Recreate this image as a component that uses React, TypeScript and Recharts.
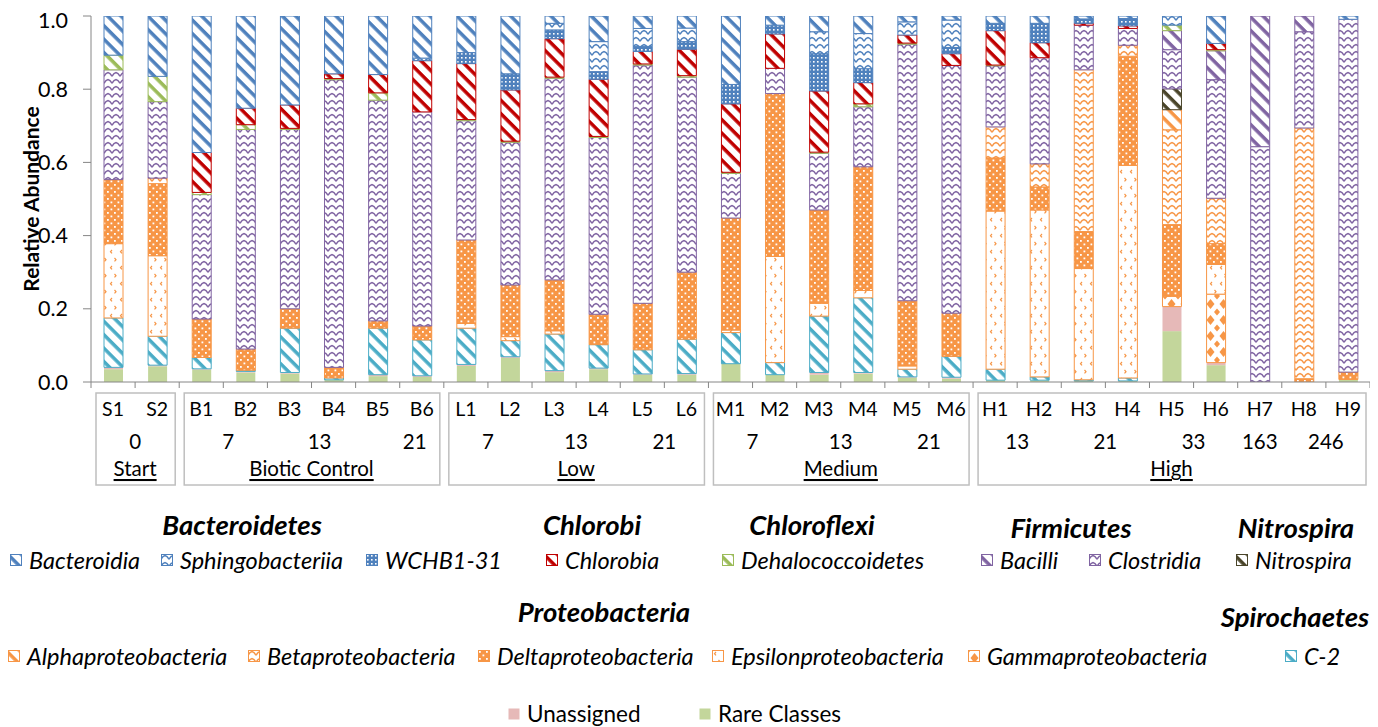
import React from 'react';
import { BarChart, Bar, XAxis, YAxis, Label } from 'recharts';

// ---- samples, days and treatments ----
const SAMPLES = ['S1', 'S2', 'B1', 'B2', 'B3', 'B4', 'B5', 'B6', 'L1', 'L2', 'L3', 'L4', 'L5', 'L6', 'M1', 'M2', 'M3', 'M4', 'M5', 'M6', 'H1', 'H2', 'H3', 'H4', 'H5', 'H6', 'H7', 'H8', 'H9'];
const DAYS = ['0', '0', '7', '7', '13', '13', '21', '21', '7', '7', '13', '13', '21', '21', '7', '7', '13', '13', '21', '21', '13', '13', '21', '21', '33', '33', '163', '246', '246'];
const TREATMENTS = [
  'Start', 'Start',
  'Biotic Control', 'Biotic Control', 'Biotic Control', 'Biotic Control', 'Biotic Control', 'Biotic Control',
  'Low', 'Low', 'Low', 'Low', 'Low', 'Low',
  'Medium', 'Medium', 'Medium', 'Medium', 'Medium', 'Medium',
  'High', 'High', 'High', 'High', 'High', 'High', 'High', 'High', 'High',
];

// ---- relative abundance per class (one value per sample) ----
const BACTEROIDIA = [0.107, 0.165, 0.373, 0.252, 0.243, 0.158, 0.160, 0.115, 0.100, 0.158, 0.020, 0.070, 0.034, 0.033, 0.187, 0.025, 0.043, 0.048, 0.016, 0.011, 0.020, 0.020, 0.008, 0.007, 0, 0.075, 0, 0, 0.009];
const SPHINGOBACTERIIA = [0, 0, 0, 0, 0, 0, 0, 0.007, 0, 0, 0.018, 0.082, 0.049, 0.037, 0, 0, 0.060, 0.096, 0.036, 0.075, 0, 0, 0, 0, 0.025, 0, 0, 0, 0];
const WCHB1_31 = [0, 0, 0, 0, 0, 0, 0, 0, 0.030, 0.044, 0.024, 0.021, 0.014, 0.021, 0.053, 0.024, 0.102, 0.038, 0, 0.017, 0.020, 0.053, 0.012, 0.020, 0, 0, 0, 0, 0];
const CHLOROBIA = [0, 0, 0.109, 0.045, 0.064, 0.013, 0.050, 0.140, 0.153, 0.140, 0.105, 0.156, 0.034, 0.072, 0.187, 0.094, 0.167, 0.058, 0.022, 0.032, 0.094, 0.041, 0.005, 0.007, 0, 0.017, 0, 0, 0];
const DEHALOCOCCOIDETES = [0.040, 0.069, 0.006, 0.013, 0.003, 0.003, 0.020, 0, 0.003, 0.003, 0.003, 0.003, 0.003, 0.004, 0.003, 0, 0.003, 0.008, 0.003, 0, 0.002, 0, 0, 0, 0.015, 0.003, 0, 0, 0];
const BACILLI = [0, 0, 0, 0, 0, 0, 0, 0, 0, 0, 0, 0, 0, 0, 0, 0, 0, 0, 0, 0, 0, 0, 0, 0, 0.052, 0.079, 0.357, 0.043, 0];
const CLOSTRIDIA = [0.300, 0.209, 0.340, 0.600, 0.490, 0.786, 0.603, 0.585, 0.326, 0.390, 0.551, 0.483, 0.651, 0.533, 0.122, 0.069, 0.155, 0.164, 0.701, 0.677, 0.167, 0.290, 0.122, 0.046, 0.107, 0.324, 0.643, 0.263, 0.964];
const NITROSPIRA = [0, 0, 0, 0, 0, 0, 0, 0, 0, 0, 0, 0, 0, 0, 0, 0, 0, 0, 0, 0, 0, 0, 0, 0, 0.057, 0, 0, 0, 0];
const ALPHA = [0, 0, 0, 0, 0, 0, 0, 0, 0, 0, 0, 0, 0, 0, 0, 0, 0, 0, 0, 0, 0, 0, 0, 0, 0.055, 0, 0, 0, 0];
const BETA = [0, 0.015, 0, 0, 0, 0, 0, 0, 0, 0, 0, 0, 0, 0, 0, 0, 0, 0, 0, 0, 0.085, 0.063, 0.442, 0.030, 0.259, 0.124, 0, 0.685, 0];
const DELTA = [0.175, 0.197, 0.105, 0.058, 0.053, 0.029, 0.020, 0.038, 0.228, 0.141, 0.139, 0.083, 0.127, 0.183, 0.306, 0.445, 0.255, 0.338, 0.178, 0.118, 0.145, 0.063, 0.101, 0.298, 0.196, 0.057, 0, 0.009, 0.020];
const EPSILON = [0.203, 0.220, 0, 0, 0, 0, 0, 0, 0.013, 0.011, 0.009, 0, 0, 0, 0.007, 0.290, 0.035, 0.020, 0.009, 0, 0.432, 0.456, 0.304, 0.581, 0, 0.081, 0, 0, 0];
const GAMMA = [0, 0, 0, 0, 0, 0, 0, 0, 0, 0, 0, 0, 0, 0, 0, 0, 0, 0, 0, 0, 0, 0, 0, 0, 0.028, 0.187, 0, 0, 0];
const C_2 = [0.135, 0.079, 0.031, 0.003, 0.121, 0.005, 0.127, 0.098, 0.099, 0.044, 0.100, 0.064, 0.066, 0.094, 0.085, 0.033, 0.154, 0.204, 0.021, 0.057, 0.030, 0.009, 0.003, 0.008, 0, 0, 0, 0, 0];
const UNASSIGNED = [0.005, 0.003, 0.002, 0.003, 0.003, 0, 0.004, 0.003, 0.004, 0.003, 0.004, 0.003, 0.002, 0.003, 0, 0, 0.006, 0.003, 0.002, 0.004, 0, 0, 0, 0, 0.067, 0.007, 0, 0, 0];
const RARE = [0.035, 0.043, 0.034, 0.026, 0.023, 0.006, 0.016, 0.014, 0.044, 0.066, 0.027, 0.035, 0.020, 0.020, 0.050, 0.020, 0.020, 0.023, 0.012, 0.009, 0.005, 0.005, 0.003, 0.003, 0.139, 0.046, 0, 0, 0.007];

const Y_TICKS = [0, 0.2, 0.4, 0.6, 0.8, 1.0];

type PatternKind = 'stripes' | 'waves' | 'grid' | 'dots' | 'chevrons' | 'diamonds' | 'solid';
interface SeriesDef { id: string; name: string; values: number[]; color: string; pattern: PatternKind; }

// legend order (top of stack first)
const SERIES: SeriesDef[] = [
  { id: 'bacteroidia', name: 'Bacteroidia', values: BACTEROIDIA, color: '#4F81BD', pattern: 'stripes' },
  { id: 'sphingo', name: 'Sphingobacteriia', values: SPHINGOBACTERIIA, color: '#4F81BD', pattern: 'waves' },
  { id: 'wchb', name: 'WCHB1-31', values: WCHB1_31, color: '#4F81BD', pattern: 'grid' },
  { id: 'chlorobia', name: 'Chlorobia', values: CHLOROBIA, color: '#C00000', pattern: 'stripes' },
  { id: 'dehalo', name: 'Dehalococcoidetes', values: DEHALOCOCCOIDETES, color: '#9BBB59', pattern: 'stripes' },
  { id: 'bacilli', name: 'Bacilli', values: BACILLI, color: '#8064A2', pattern: 'stripes' },
  { id: 'clostridia', name: 'Clostridia', values: CLOSTRIDIA, color: '#8064A2', pattern: 'waves' },
  { id: 'nitrospira', name: 'Nitrospira', values: NITROSPIRA, color: '#4A452A', pattern: 'stripes' },
  { id: 'alpha', name: 'Alphaproteobacteria', values: ALPHA, color: '#F79646', pattern: 'stripes' },
  { id: 'beta', name: 'Betaproteobacteria', values: BETA, color: '#F79646', pattern: 'waves' },
  { id: 'delta', name: 'Deltaproteobacteria', values: DELTA, color: '#F79646', pattern: 'dots' },
  { id: 'epsilon', name: 'Epsilonproteobacteria', values: EPSILON, color: '#F79646', pattern: 'chevrons' },
  { id: 'gamma', name: 'Gammaproteobacteria', values: GAMMA, color: '#F79646', pattern: 'diamonds' },
  { id: 'c2', name: 'C-2', values: C_2, color: '#4BACC6', pattern: 'stripes' },
  { id: 'unassigned', name: 'Unassigned', values: UNASSIGNED, color: '#E6B9B8', pattern: 'solid' },
  { id: 'rare', name: 'Rare Classes', values: RARE, color: '#C3D69B', pattern: 'solid' },
];

const rows = SAMPLES.map((sample, i) => {
  const row: Record<string, string | number> = { sample };
  SERIES.forEach((s) => { row[s.id] = s.values[i]; });
  return row;
});

// ---- layout ----
const FONT = "Lato, 'Open Sans', sans-serif";
const AXIS = '#868686';
const CHART_W = 1362;
const CHART_H = 490;
const MARGIN = { top: 8, right: 0, bottom: 6, left: 10 };
const Y_W = 73;
const X_H = 110;
const BAND = (CHART_W - MARGIN.left - MARGIN.right - Y_W) / SAMPLES.length;
const DAY_NUDGE: Record<string, number> = { 'Biotic Control|7': 5, 'Biotic Control|13': 8, 'Biotic Control|21': 15 };

const fillOf = (s: SeriesDef) => (s.pattern === 'solid' ? s.color : `url(#pat-${s.id})`);

function PatternDef({ s }: { s: SeriesDef }) {
  const id = `pat-${s.id}`;
  const c = s.color;
  switch (s.pattern) {
    case 'stripes':
      return (
        <pattern id={id} patternUnits="userSpaceOnUse" width={9.5} height={9.5} patternTransform="rotate(45)">
          <rect width={9.5} height={9.5} fill="#fff" />
          <rect width={9.5} height={3.5} fill={c} />
        </pattern>
      );
    case 'waves':
      return (
        <pattern id={id} patternUnits="userSpaceOnUse" width={8} height={7}>
          <rect width={8} height={7} fill="#fff" />
          <path d="M0,5.2 L2,2.6 L4,1.6 L6,2.6 L8,5.2" stroke={c} strokeWidth={1.4} fill="none" />
        </pattern>
      );
    case 'grid':
      return (
        <pattern id={id} patternUnits="userSpaceOnUse" width={4} height={4}>
          <rect width={4} height={4} fill={c} />
          <rect x={1} y={1} width={1.6} height={1.6} fill="#fff" />
        </pattern>
      );
    case 'dots':
      return (
        <pattern id={id} patternUnits="userSpaceOnUse" width={7} height={7}>
          <rect width={7} height={7} fill={c} />
          <rect x={1} y={1} width={1.8} height={1.8} fill="#fff" />
          <rect x={4.5} y={4.5} width={1.8} height={1.8} fill="#fff" />
        </pattern>
      );
    case 'chevrons':
      return (
        <pattern id={id} patternUnits="userSpaceOnUse" width={10} height={16}>
          <rect width={10} height={16} fill="#fff" />
          <path d="M4,2 L2.5,3.7 L4,5.4" stroke={c} strokeWidth={1.2} fill="none" />
          <path d="M6.5,10 L8,11.7 L6.5,13.4" stroke={c} strokeWidth={1.2} fill="none" />
        </pattern>
      );
    case 'diamonds':
      return (
        <pattern id={id} patternUnits="userSpaceOnUse" width={13} height={16}>
          <rect width={13} height={16} fill="#fff" />
          <polygon points="6.5,3 10.5,8 6.5,13 2.5,8" fill={c} />
          <polygon points="0,-3.5 3,0 0,3.5 -3,0" fill={c} />
          <polygon points="13,-3.5 16,0 13,3.5 10,0" fill={c} />
          <polygon points="0,12.5 3,16 0,19.5 -3,16" fill={c} />
          <polygon points="13,12.5 16,16 13,19.5 10,16" fill={c} />
        </pattern>
      );
    default:
      return null;
  }
}

// Sample names, day labels, treatment boxes and boundary ticks under the x axis
function SampleTick(props: any) {
  const { x, y, index } = props;
  const i = index as number;
  const left = x - BAND / 2;
  const group = TREATMENTS[i];
  const els: React.ReactNode[] = [];
  const txt = { fontFamily: FONT, fill: '#000' };

  els.push(<line key="tl" x1={left} x2={left} y1={y} y2={y + 6} stroke={AXIS} strokeWidth={1} />);
  if (i === SAMPLES.length - 1) {
    els.push(<line key="tr" x1={left + BAND} x2={left + BAND} y1={y} y2={y + 6} stroke={AXIS} strokeWidth={1} />);
  }
  els.push(
    <text key="s" x={x} y={y + 26} textAnchor="middle" dominantBaseline="central" fontSize={19.5} {...txt}>
      {SAMPLES[i]}
    </text>
  );

  const firstOfGroup = i === 0 || TREATMENTS[i - 1] !== group;
  const firstOfDay = firstOfGroup || DAYS[i - 1] !== DAYS[i];
  if (firstOfDay) {
    let n = 1;
    while (i + n < SAMPLES.length && TREATMENTS[i + n] === group && DAYS[i + n] === DAYS[i]) n++;
    const nudge = DAY_NUDGE[`${group}|${DAYS[i]}`] || 0;
    els.push(
      <text key="d" x={left + (n * BAND) / 2 + nudge} y={y + 59} textAnchor="middle" dominantBaseline="central" fontSize={20.5} {...txt}>
        {DAYS[i]}
      </text>
    );
  }
  if (firstOfGroup) {
    let n = 1;
    while (i + n < SAMPLES.length && TREATMENTS[i + n] === group) n++;
    els.push(
      <rect key="b" x={left + 5} y={y + 11} width={n * BAND - 9} height={92} fill="none" stroke="#BFBFBF" strokeWidth={1.5} />
    );
    els.push(
      <text key="g" x={left + (n * BAND) / 2} y={y + 86} textAnchor="middle" dominantBaseline="central" fontSize={20.5}
        style={{ textDecoration: 'underline' }} {...txt}>
        {group}
      </text>
    );
  }
  return <g>{els}</g>;
}

function YTitle(props: any) {
  const vb = props.viewBox || { x: MARGIN.left, y: MARGIN.top, width: Y_W, height: CHART_H - MARGIN.top - MARGIN.bottom - X_H };
  const cx = vb.x + 12;
  const cy = vb.y + vb.height / 2;
  return (
    <text x={cx} y={cy} transform={`rotate(-90 ${cx} ${cy})`} textAnchor="middle" dominantBaseline="central"
      fontFamily={FONT} fontSize={21} fontWeight={700} fill="#000">
      Relative Abundance
    </text>
  );
}

// ---- legend (phylum headers over their classes) ----
const LEGEND_HEADERS = [
  { text: 'Bacteroidetes', cx: 234, cy: 517 },
  { text: 'Chlorobi', cx: 584, cy: 517 },
  { text: 'Chloroflexi', cx: 804, cy: 517 },
  { text: 'Firmicutes', cx: 1063, cy: 520 },
  { text: 'Nitrospira', cx: 1288, cy: 520 },
  { text: 'Proteobacteria', cx: 596, cy: 604 },
  { text: 'Spirochaetes', cx: 1287, cy: 609 },
];
const LEGEND_POS: Record<string, [number, number]> = {
  bacteroidia: [2, 552], sphingo: [153, 552], wchb: [358, 552], chlorobia: [538, 552],
  dehalo: [714, 552], bacilli: [973, 552], clostridia: [1081, 552], nitrospira: [1228, 552],
  alpha: [0, 648], beta: [240, 648], delta: [470, 648], epsilon: [704, 648], gamma: [960, 648], c2: [1277, 648],
  unassigned: [500, 706], rare: [691, 706],
};

function LegendBlock() {
  return (
    <>
      {LEGEND_HEADERS.map((h) => (
        <div key={h.text} style={{
          position: 'absolute', left: h.cx - 150, top: h.cy - 17, width: 300, height: 34, lineHeight: '34px',
          textAlign: 'center', fontFamily: FONT, fontWeight: 700, fontStyle: 'italic', fontSize: 27.5, color: '#000',
        }}>{h.text}</div>
      ))}
      {SERIES.map((s) => {
        const [lx, cy] = LEGEND_POS[s.id];
        const plain = s.pattern === 'solid';
        return (
          <div key={s.id} style={{ position: 'absolute', left: lx, top: cy - 14, height: 28, display: 'flex', alignItems: 'center', whiteSpace: 'nowrap' }}>
            <svg width={12} height={12} style={{ display: 'block' }}>
              <rect x={0.5} y={0.5} width={11} height={11} fill={fillOf(s)} stroke={plain ? 'none' : s.color} strokeWidth={1} />
            </svg>
            <span style={{ marginLeft: 7, fontFamily: FONT, fontStyle: plain ? 'normal' : 'italic', fontSize: plain ? 22.5 : 23.5, lineHeight: '28px', color: '#000' }}>
              {s.name}
            </span>
          </div>
        );
      })}
    </>
  );
}

export default function App() {
  const stackOrder = [...SERIES].reverse();
  return (
    <div style={{ position: 'relative', width: CHART_W, height: 719, background: '#fff' }}>
      <style>{'html, body { overflow: hidden; }'}</style>
      <svg width={0} height={0} style={{ position: 'absolute' }}>
        <defs>
          {SERIES.map((s) => <PatternDef key={s.id} s={s} />)}
        </defs>
      </svg>
      <BarChart width={CHART_W} height={CHART_H} data={rows} margin={MARGIN} barSize={19}>
        <XAxis dataKey="sample" type="category" interval={0} height={X_H} axisLine={{ stroke: AXIS }}
          tickLine={false} tickSize={0} tickMargin={0} tick={(p: any) => <SampleTick {...p} />} />
        <YAxis type="number" domain={[0, 1]} ticks={Y_TICKS} width={Y_W} allowDataOverflow
          tickFormatter={(v: number) => v.toFixed(1)} tickSize={8} tickMargin={15}
          axisLine={{ stroke: AXIS }} tickLine={{ stroke: AXIS }}
          tick={{ fill: '#000', fontSize: 21.5, fontFamily: FONT }}>
          <Label content={(p: any) => <YTitle {...p} />} />
        </YAxis>
        {stackOrder.map((s) => (
          <Bar key={s.id} dataKey={s.id} name={s.name} stackId="abundance" fill={fillOf(s)}
            stroke={s.pattern === 'solid' ? 'none' : s.color} strokeWidth={1} isAnimationActive={false} />
        ))}
      </BarChart>
      <LegendBlock />
    </div>
  );
}
